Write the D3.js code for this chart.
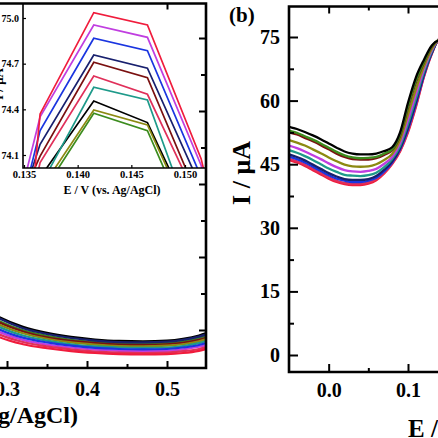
<!DOCTYPE html>
<html><head><meta charset="utf-8">
<script src="https://cdn.jsdelivr.net/npm/d3@7"></script>
<style>
body{margin:0;background:#fff;}
svg{display:block;}
text{font-family:"Liberation Serif","Times New Roman",serif;font-weight:bold;fill:#000;}
</style></head>
<body>
<svg id="chart" width="438" height="438"></svg>
<script>
// ---------- DATA ----------
const seriesNames = ["black","green","maroon","olive","magenta","teal","navy","blue","crimson","red"];
const seriesColors = ["#000000","#3c8c1e","#7a1010","#8c8a12","#c03ee0","#1e9a8a","#18206e","#1a35e0","#e0305a","#f01c3c"];

// Panel (b): E / V
const eB = [-0.06,-0.05,-0.04,-0.03,-0.02,-0.01,0.00,0.01,0.02,0.03,0.04,0.05,0.06,0.07,0.08,0.09,0.10,0.11,0.12,0.13,0.14,0.15];
const iB_black   = [54.3,53.8,53.3,52.6,51.8,50.9,49.9,48.9,48.0,47.5,47.3,47.3,47.5,48.1,49.0,52.5,59.5,65.5,69.6,73.0,74.2,74.0];
const iB_green   = [53.4,52.9,52.4,51.6,50.8,49.9,48.9,47.9,47.1,46.6,46.4,46.5,46.7,47.5,48.5,52.0,58.7,64.7,69.1,72.8,74.3,74.1];
const iB_maroon  = [53.0,52.5,52.0,51.2,50.4,49.5,48.5,47.5,46.7,46.2,46.1,46.1,46.4,47.2,48.3,51.7,58.3,64.3,68.9,72.7,74.3,74.1];
const iB_olive   = [51.2,50.7,50.1,49.4,48.5,47.6,46.6,45.7,44.9,44.5,44.4,44.5,45.0,46.0,47.4,50.7,56.7,62.7,68.0,72.2,74.4,74.3];
const iB_magenta = [49.9,49.4,48.8,48.0,47.1,46.2,45.2,44.3,43.6,43.3,43.2,43.4,43.9,45.1,46.7,49.9,55.5,61.5,67.3,71.9,74.4,74.5];
const iB_teal    = [48.8,48.3,47.7,46.9,46.0,45.0,44.0,43.2,42.5,42.3,42.2,42.4,43.0,44.3,46.2,49.3,54.5,60.5,66.7,71.6,74.5,74.5];
const iB_navy    = [47.8,47.3,46.7,45.9,44.9,43.9,42.9,42.1,41.5,41.3,41.3,41.5,42.2,43.7,45.6,48.7,53.6,59.6,66.2,71.3,74.5,74.6];
const iB_blue    = [47.4,46.8,46.2,45.4,44.4,43.4,42.4,41.6,41.1,40.8,40.8,41.1,41.8,43.3,45.4,48.5,53.2,59.2,65.9,71.2,74.6,74.7];
const iB_crimson = [46.9,46.3,45.7,44.9,43.9,42.9,41.9,41.1,40.6,40.4,40.4,40.7,41.5,43.0,45.2,48.2,52.8,58.8,65.7,71.1,74.6,74.8];
const iB_red     = [46.6,46.0,45.4,44.6,43.6,42.6,41.6,40.8,40.3,40.1,40.1,40.4,41.2,42.8,45.0,48.0,52.5,58.5,65.5,71.0,74.6,74.8];
const seriesB = [iB_black,iB_green,iB_maroon,iB_olive,iB_magenta,iB_teal,iB_navy,iB_blue,iB_crimson,iB_red];
const yTicksB = [0,15,30,45,60,75];
const yMinorB = [7.5,22.5,37.5,52.5,67.5];
const xTicksB = [0.0,0.1];
const xMinorB = [0.05];

// Panel (a): visible lower-right part
const eA = [0.26,0.29,0.32,0.35,0.38,0.41,0.44,0.47,0.50,0.52,0.54,0.56];
const iA_black   = [7.5,3.6,0.9,-0.8,-1.9,-2.6,-3.0,-3.1,-2.9,-2.4,-1.5,0.0];
const iA_navy    = [7.1,3.2,0.5,-1.1,-2.2,-2.9,-3.3,-3.4,-3.2,-2.7,-1.8,-0.4];
const iA_green   = [6.4,2.5,-0.1,-1.6,-2.7,-3.3,-3.7,-3.8,-3.6,-3.2,-2.3,-0.9];
const iA_maroon  = [6.0,2.1,-0.4,-2.0,-3.0,-3.6,-4.0,-4.1,-3.9,-3.5,-2.7,-1.3];
const iA_olive   = [5.4,1.5,-0.9,-2.4,-3.4,-4.0,-4.4,-4.5,-4.3,-3.9,-3.1,-1.7];
const iA_teal    = [4.8,0.9,-1.5,-2.9,-3.9,-4.5,-4.8,-4.9,-4.8,-4.4,-3.6,-2.3];
const iA_blue    = [4.1,0.2,-2.1,-3.4,-4.3,-4.9,-5.2,-5.3,-5.2,-4.8,-4.1,-2.9];
const iA_magenta = [3.4,-0.5,-2.7,-4.0,-4.8,-5.4,-5.7,-5.8,-5.7,-5.3,-4.6,-3.5];
const iA_crimson = [2.7,-1.2,-3.3,-4.5,-5.3,-5.9,-6.2,-6.3,-6.2,-5.8,-5.2,-4.0];
const iA_red     = [2.0,-1.9,-3.9,-5.0,-5.8,-6.3,-6.6,-6.7,-6.6,-6.3,-5.7,-4.6];
const seriesA = [iA_black,iA_green,iA_maroon,iA_olive,iA_magenta,iA_teal,iA_navy,iA_blue,iA_crimson,iA_red];
const xTicksA = [0.3,0.4,0.5];
const xMinorA = [0.35,0.45];
const yTicksA = [0,20,40,60,80];
const yMinorA = [-10,10,30,50,70];

// Inset of panel (a)
const eIn = [0.1315,0.1365,0.1415,0.1465,0.1515,0.1565];
const in_black   = [73.0,73.953,74.455,74.313,73.564,72.3];
const in_green   = [73.0,73.828,74.374,74.26,73.454,72.3];
const in_maroon  = [73.3,74.093,74.709,74.608,73.773,72.4];
const in_olive   = [73.0,73.867,74.396,74.297,73.527,72.3];
const in_magenta = [72.94,74.35,74.954,74.873,74.033,72.6];
const in_teal    = [73.0,73.894,74.545,74.462,73.49,72.3];
const in_navy    = [73.09,74.17,74.757,74.67,73.885,72.5];
const in_blue    = [72.85,74.26,74.867,74.785,73.955,72.5];
const in_crimson = [72.5,74.05,74.619,74.499,73.752,72.4];
const in_red     = [70.6,74.37,75.035,74.954,74.076,72.6];
const seriesIn = [in_black,in_green,in_maroon,in_olive,in_magenta,in_teal,in_navy,in_blue,in_crimson,in_red];
const xTicksIn = [0.135,0.140,0.145,0.150];
const yTicksIn = [74.1,74.4,74.7,75.0];

const axisTitle = "E / V (vs. Ag/AgCl)";
const yTitle = "I / \u03bcA";

// ---------- DRAW ----------
const svg = d3.select("#chart");
svg.append("rect").attr("width",438).attr("height",438).attr("fill","#fff");
const defs = svg.append("defs");

// ===== Panel (a) =====
const A = {left:-200, right:206, top:3.5, bottom:368};
const xA = d3.scaleLinear().domain([0.3,0.5]).range([7,167]);
const yA = d3.scaleLinear().domain([0,80]).range([330,38]);
defs.append("clipPath").attr("id","clipA").append("rect")
  .attr("x",A.left).attr("y",A.top).attr("width",A.right-A.left).attr("height",A.bottom-A.top);
const lineA = d3.line().x((d,i)=>xA(eA[i])).y(d=>yA(d)).curve(d3.curveMonotoneX);
const gA = svg.append("g").attr("clip-path","url(#clipA)");
seriesA.forEach((s,k)=>{
  gA.append("path").attr("d",lineA(s)).attr("fill","none")
    .attr("stroke",seriesColors[k]).attr("stroke-width",2.2);
});
// Inset
const I = {left:23, right:205, top:4, bottom:168};
const xI = d3.scaleLinear().domain([0.135,0.150]).range([24,185]);
const yI = d3.scaleLinear().domain([74.1,75.0]).range([155,18]);
svg.append("rect").attr("x",I.left).attr("y",I.top).attr("width",I.right-I.left).attr("height",I.bottom-I.top).attr("fill","#fff");
defs.append("clipPath").attr("id","clipI").append("rect")
  .attr("x",I.left).attr("y",I.top).attr("width",I.right-I.left).attr("height",I.bottom-I.top);
const lineI = d3.line().x((d,i)=>xI(eIn[i])).y(d=>yI(d));
const gI = svg.append("g").attr("clip-path","url(#clipI)");
seriesIn.forEach((s,k)=>{
  gI.append("path").attr("d",lineI(s)).attr("fill","none")
    .attr("stroke",seriesColors[k]).attr("stroke-width",1.7).attr("stroke-linejoin","miter");
});
// inset axes
const gIx = svg.append("g").attr("transform",`translate(0,${I.bottom})`)
  .call(d3.axisBottom(xI).tickValues(xTicksIn).tickFormat(d3.format(".3f")).tickSize(-3).tickPadding(3));
gIx.select(".domain").remove();
gIx.selectAll("text").attr("font-size",10.5).attr("font-family","Liberation Serif, serif").attr("font-weight","bold");
gIx.selectAll("line").attr("stroke-width",1.2);
const gIy = svg.append("g").attr("transform",`translate(${I.left},0)`)
  .call(d3.axisLeft(yI).tickValues(yTicksIn).tickFormat(d3.format(".1f")).tickSize(-3).tickPadding(4));
gIy.select(".domain").remove();
gIy.selectAll("text").attr("font-size",10).attr("font-family","Liberation Serif, serif").attr("font-weight","bold");
gIy.selectAll("line").attr("stroke-width",1.2);
svg.append("path").attr("d",`M${I.left},${I.top}V${I.bottom}H${I.right}`).attr("fill","none").attr("stroke","#000").attr("stroke-width",1.6);
svg.append("text").attr("x",112).attr("y",194).attr("text-anchor","middle").attr("font-size",12).text(axisTitle);
svg.append("text").attr("transform","translate(3,84) rotate(-90)").attr("text-anchor","middle").attr("font-size",13).text(yTitle);

// panel (a) frame & ticks
svg.append("path").attr("d",`M${A.left},${A.top}H${A.right}V${A.bottom}H${A.left}`).attr("fill","none").attr("stroke","#000").attr("stroke-width",2.6);
const gAx = svg.append("g").attr("transform",`translate(0,${A.bottom})`)
  .call(d3.axisBottom(xA).tickValues(xTicksA).tickFormat(d3.format(".1f")).tickSize(-7).tickPadding(14));
gAx.select(".domain").remove();
gAx.selectAll("text").attr("font-size",20).attr("font-family","Liberation Serif, serif").attr("font-weight","bold");
gAx.selectAll("line").attr("stroke-width",2);
const gAxm = svg.append("g").attr("transform",`translate(0,${A.bottom})`)
  .call(d3.axisBottom(xA).tickValues(xMinorA).tickFormat("").tickSize(-4));
gAxm.select(".domain").remove(); gAxm.selectAll("line").attr("stroke-width",2);
const gAt = svg.append("g").attr("transform",`translate(0,${A.top})`)
  .call(d3.axisTop(xA).tickValues([0.5]).tickFormat("").tickSize(-6));
gAt.select(".domain").remove(); gAt.selectAll("line").attr("stroke-width",2);
const gAy = svg.append("g").attr("transform",`translate(${A.right},0)`)
  .call(d3.axisLeft(yA).tickValues(yTicksA).tickFormat("").tickSize(7));
gAy.select(".domain").remove(); gAy.selectAll("line").attr("stroke-width",2);
const gAym = svg.append("g").attr("transform",`translate(${A.right},0)`)
  .call(d3.axisLeft(yA).tickValues(yMinorA.filter(v=>yA(v)<A.bottom-2)).tickFormat("").tickSize(5));
gAym.select(".domain").remove(); gAym.selectAll("line").attr("stroke-width",2);
svg.append("text").attr("x",78).attr("y",423).attr("text-anchor","end").attr("font-size",24).text(axisTitle);

// ===== Panel (b) =====
const B = {left:289, right:460, top:6.5, bottom:372};
const xB = d3.scaleLinear().domain([-0.05,0.1]).range([289,408]);
const yB = d3.scaleLinear().domain([0,75]).range([355,37]);
defs.append("clipPath").attr("id","clipB").append("rect")
  .attr("x",B.left).attr("y",B.top).attr("width",B.right-B.left).attr("height",B.bottom-B.top);
const lineB = d3.line().x((d,i)=>xB(eB[i])).y(d=>yB(d)).curve(d3.curveMonotoneX);
const gB = svg.append("g").attr("clip-path","url(#clipB)");
seriesB.slice().reverse().forEach((s,kk)=>{
  const k = seriesB.length-1-kk;
  gB.append("path").attr("d",lineB(s)).attr("fill","none")
    .attr("stroke",seriesColors[k]).attr("stroke-width",2.3);
});
svg.append("path").attr("d",`M${B.right},${B.top}H${B.left}V${B.bottom}H${B.right}`).attr("fill","none").attr("stroke","#000").attr("stroke-width",2.6);
const gBy = svg.append("g").attr("transform",`translate(${B.left},0)`)
  .call(d3.axisLeft(yB).tickValues(yTicksB).tickFormat(d3.format("d")).tickSize(-9).tickPadding(9));
gBy.select(".domain").remove();
gBy.selectAll("text").attr("font-size",20).attr("font-family","Liberation Serif, serif").attr("font-weight","bold");
gBy.selectAll("line").attr("stroke-width",2);
const gBym = svg.append("g").attr("transform",`translate(${B.left},0)`)
  .call(d3.axisLeft(yB).tickValues(yMinorB).tickFormat("").tickSize(-5));
gBym.select(".domain").remove(); gBym.selectAll("line").attr("stroke-width",2);
const gBx = svg.append("g").attr("transform",`translate(0,${B.bottom})`)
  .call(d3.axisBottom(xB).tickValues(xTicksB).tickFormat(d3.format(".1f")).tickSize(-8).tickPadding(11));
gBx.select(".domain").remove();
gBx.selectAll("text").attr("font-size",20).attr("font-family","Liberation Serif, serif").attr("font-weight","bold");
gBx.selectAll("line").attr("stroke-width",2);
const gBxm = svg.append("g").attr("transform",`translate(0,${B.bottom})`)
  .call(d3.axisBottom(xB).tickValues(xMinorB).tickFormat("").tickSize(-4));
gBxm.select(".domain").remove(); gBxm.selectAll("line").attr("stroke-width",2);
const gBt = svg.append("g").attr("transform",`translate(0,${B.top})`)
  .call(d3.axisTop(xB).tickValues(xTicksB).tickFormat("").tickSize(-7));
gBt.select(".domain").remove(); gBt.selectAll("line").attr("stroke-width",2);
const gBtm = svg.append("g").attr("transform",`translate(0,${B.top})`)
  .call(d3.axisTop(xB).tickValues(xMinorB).tickFormat("").tickSize(-4));
gBtm.select(".domain").remove(); gBtm.selectAll("line").attr("stroke-width",2);
svg.append("text").attr("x",408).attr("y",437).attr("font-size",25).text(axisTitle);
svg.append("text").attr("transform","translate(250,173) rotate(-90)").attr("text-anchor","middle").attr("font-size",26).text(yTitle);
svg.append("text").attr("x",229).attr("y",22).attr("font-size",21).text("(b)");
</script>
</body></html>
